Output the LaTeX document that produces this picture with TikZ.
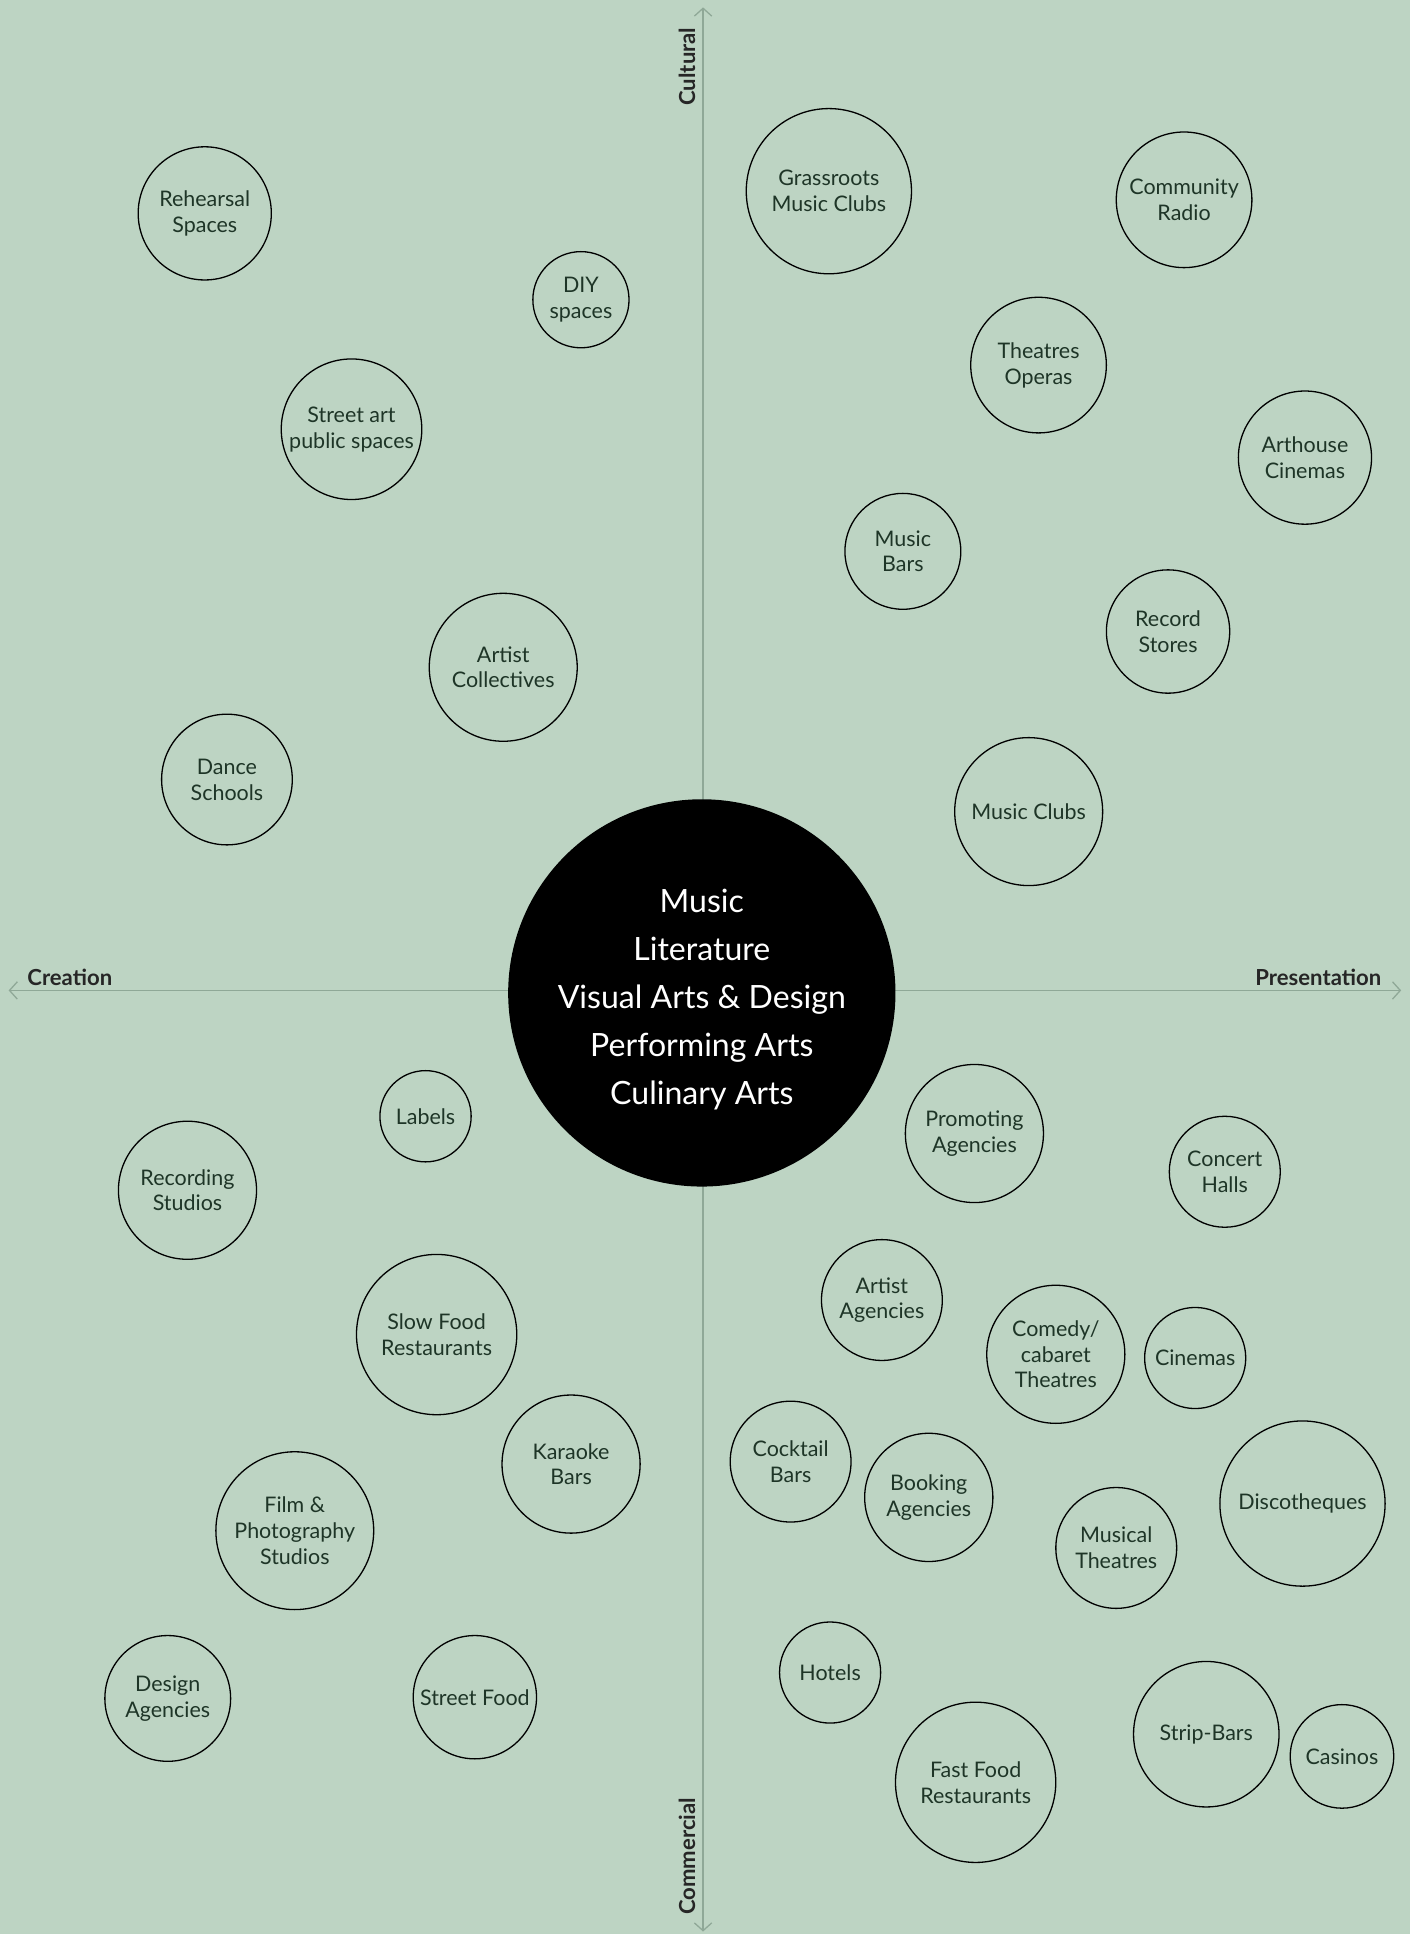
\documentclass[tikz,border=0pt]{standalone}
\usepackage{fontspec}
\setmainfont{Lato}
\usetikzlibrary{arrows.meta}

\definecolor{bgmint}{HTML}{BDD4C3}
\definecolor{axisgrey}{HTML}{8FA897}
\definecolor{inkgreen}{HTML}{1E3527}

\tikzset{
  venue/.style={circle, draw=black, line width=0.6pt, inner sep=0pt,
    minimum size=#1*0.04cm, align=center, text=inkgreen,
    font=\fontsize{9.9}{11.9}\selectfont},
  axislabel/.style={font=\fontsize{10.2}{11}\selectfont\bfseries, text=black!85},
  axis/.style={draw=axisgrey, line width=0.6pt,
    -{Straight Barb[length=3.6pt,width=8pt]}}
}

\begin{document}
\begin{tikzpicture}[x=0.02cm, y=-0.02cm]
\fill[bgmint] (0,0) rectangle (1143,1568);
\useasboundingbox (0,0) rectangle (1143,1568);

% axes
\coordinate (origin) at (570,803);
\coordinate (top) at (570,6);
\coordinate (bottom) at (570,1566);
\coordinate (left) at (7,803);
\coordinate (right) at (1136,803);
\draw[axis] (origin) -- (top);
\draw[axis] (origin) -- (bottom);
\draw[axis] (origin) -- (left);
\draw[axis] (origin) -- (right);

\node[axislabel, rotate=90] (cultural) at (557,54) {Cultural};
\node[axislabel, rotate=90] (commercial) at (557,1505) {Commercial};
\node[axislabel, anchor=west] (creation) at (16,792) {Creation};
\node[axislabel, anchor=east] (presentation) at (1126,792) {Presentation};

% core
\node[circle, fill=black, inner sep=0pt, minimum size=314*0.02cm] (core) at (569,805) {};
\node[align=center, text=white, font=\fontsize{14.8}{22.1}\selectfont]
  (coretext) at ([yshift=-3pt]core.center)
  {Music\\Literature\\Visual Arts \& Design\\Performing Arts\\Culinary Arts};

% creation / cultural
\node[venue=54] (rehearsal) at (166,173) {Rehearsal\\Spaces};
\node[venue=39] (diy) at (471,243) {DIY\\spaces};
\node[venue=57] (streetart) at (285,348) {Street art\\public spaces};
\node[venue=60] (collectives) at (408,541) {Artist\\Collectives};
\node[venue=53] (dance) at (184,632) {Dance\\Schools};

% presentation / cultural
\node[venue=67] (grassroots) at (672,155) {Grassroots\\Music Clubs};
\node[venue=55] (radio) at (960,162) {Community\\Radio};
\node[venue=55] (theatres) at (842,296) {Theatres\\Operas};
\node[venue=54] (arthouse) at (1058,371) {Arthouse\\Cinemas};
\node[venue=47] (musicbars) at (732,447) {Music\\Bars};
\node[venue=50] (records) at (947,512) {Record\\Stores};
\node[venue=60] (musicclubs) at (834,658) {Music Clubs};

% creation / commercial
\node[venue=37] (labels) at (345,905) {Labels};
\node[venue=56] (recording) at (152,965) {Recording\\Studios};
\node[venue=65] (slowfood) at (354,1082) {Slow Food\\Restaurants};
\node[venue=56] (karaoke) at (463,1187) {Karaoke\\Bars};
\node[venue=64] (film) at (239,1241) {Film \&\\Photography\\Studios};
\node[venue=51] (design) at (136,1377) {Design\\Agencies};
\node[venue=50] (streetfood) at (385,1376) {Street Food};

% presentation / commercial
\node[venue=56] (promoting) at (790,919) {Promoting\\Agencies};
\node[venue=45] (concert) at (993,950) {Concert\\Halls};
\node[venue=49] (artistag) at (715,1054) {Artist\\Agencies};
\node[venue=56] (comedy) at (856,1098) {Comedy/\\cabaret\\Theatres};
\node[venue=41] (cinemas) at (969,1101) {Cinemas};
\node[venue=49] (cocktail) at (641,1185) {Cocktail\\Bars};
\node[venue=52] (booking) at (753,1214) {Booking\\Agencies};
\node[venue=49] (musical) at (905,1255) {Musical\\Theatres};
\node[venue=67] (disco) at (1056,1219) {Discotheques};
\node[venue=41] (hotels) at (673,1356) {Hotels};
\node[venue=65] (fastfood) at (791,1445) {Fast Food\\Restaurants};
\node[venue=59] (strip) at (978,1406) {Strip-Bars};
\node[venue=42] (casinos) at (1088,1424) {Casinos};

\end{tikzpicture}
\end{document}
